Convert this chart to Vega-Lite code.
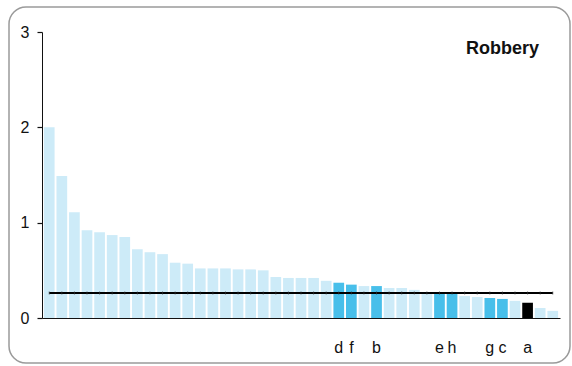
{
  "$schema": "https://vega.github.io/schema/vega-lite/v6.json",
  "width": 561,
  "height": 356,
  "autosize": "none",
  "padding": {"left": 9, "top": 7, "right": 2, "bottom": 3},
  "background": "white",
  "title": {"text": "Robbery", "anchor": "end", "frame": "group", "offset": -65, "dx": -31, "font": "Liberation Sans", "fontSize": 18, "fontWeight": "bold", "color": "#111111", "baseline": "alphabetic"},
  "config": {
    "view": {"stroke": "#9a9a9a", "strokeWidth": 1.5, "cornerRadius": 17},
    "font": "Liberation Sans",
    "axisY": {"offset": -33, "grid": false, "ticks": true, "tickWidth": 1.2, "domainColor": "#111111", "tickColor": "#111111", "tickSize": 5, "labelFontSize": 16, "labelPadding": 8, "labelColor": "#111111", "labelFont": "Liberation Sans", "format": "d"}
  },
  "data": {"values": [
    {"rank": 1, "value": 2.0, "group": "other", "label": "", "avg": 0.262},
    {"rank": 2, "value": 1.49, "group": "other", "label": "", "avg": 0.262},
    {"rank": 3, "value": 1.11, "group": "other", "label": "", "avg": 0.262},
    {"rank": 4, "value": 0.92, "group": "other", "label": "", "avg": 0.262},
    {"rank": 5, "value": 0.90, "group": "other", "label": "", "avg": 0.262},
    {"rank": 6, "value": 0.87, "group": "other", "label": "", "avg": 0.262},
    {"rank": 7, "value": 0.85, "group": "other", "label": "", "avg": 0.262},
    {"rank": 8, "value": 0.72, "group": "other", "label": "", "avg": 0.262},
    {"rank": 9, "value": 0.69, "group": "other", "label": "", "avg": 0.262},
    {"rank": 10, "value": 0.67, "group": "other", "label": "", "avg": 0.262},
    {"rank": 11, "value": 0.58, "group": "other", "label": "", "avg": 0.262},
    {"rank": 12, "value": 0.57, "group": "other", "label": "", "avg": 0.262},
    {"rank": 13, "value": 0.52, "group": "other", "label": "", "avg": 0.262},
    {"rank": 14, "value": 0.52, "group": "other", "label": "", "avg": 0.262},
    {"rank": 15, "value": 0.52, "group": "other", "label": "", "avg": 0.262},
    {"rank": 16, "value": 0.51, "group": "other", "label": "", "avg": 0.262},
    {"rank": 17, "value": 0.51, "group": "other", "label": "", "avg": 0.262},
    {"rank": 18, "value": 0.50, "group": "other", "label": "", "avg": 0.262},
    {"rank": 19, "value": 0.43, "group": "other", "label": "", "avg": 0.262},
    {"rank": 20, "value": 0.42, "group": "other", "label": "", "avg": 0.262},
    {"rank": 21, "value": 0.42, "group": "other", "label": "", "avg": 0.262},
    {"rank": 22, "value": 0.42, "group": "other", "label": "", "avg": 0.262},
    {"rank": 23, "value": 0.39, "group": "other", "label": "", "avg": 0.262},
    {"rank": 24, "value": 0.37, "group": "highlight", "label": "d", "avg": 0.262},
    {"rank": 25, "value": 0.35, "group": "highlight", "label": "f", "avg": 0.262},
    {"rank": 26, "value": 0.335, "group": "other", "label": "", "avg": 0.262},
    {"rank": 27, "value": 0.335, "group": "highlight", "label": "b", "avg": 0.262},
    {"rank": 28, "value": 0.315, "group": "other", "label": "", "avg": 0.262},
    {"rank": 29, "value": 0.315, "group": "other", "label": "", "avg": 0.262},
    {"rank": 30, "value": 0.295, "group": "other", "label": "", "avg": 0.262},
    {"rank": 31, "value": 0.27, "group": "other", "label": "", "avg": 0.262},
    {"rank": 32, "value": 0.26, "group": "highlight", "label": "e", "avg": 0.262},
    {"rank": 33, "value": 0.26, "group": "highlight", "label": "h", "avg": 0.262},
    {"rank": 34, "value": 0.23, "group": "other", "label": "", "avg": 0.262},
    {"rank": 35, "value": 0.22, "group": "other", "label": "", "avg": 0.262},
    {"rank": 36, "value": 0.21, "group": "highlight", "label": "g", "avg": 0.262},
    {"rank": 37, "value": 0.20, "group": "highlight", "label": "c", "avg": 0.262},
    {"rank": 38, "value": 0.18, "group": "other", "label": "", "avg": 0.262},
    {"rank": 39, "value": 0.16, "group": "a", "label": "a", "avg": 0.262},
    {"rank": 40, "value": 0.105, "group": "other", "label": "", "avg": 0.262},
    {"rank": 41, "value": 0.075, "group": "other", "label": "", "avg": 0.262}
  ]},
  "encoding": {
    "x": {"field": "rank", "type": "ordinal", "sort": null,
      "scale": {"range": [33, 551], "paddingInner": 0.15, "paddingOuter": 0.15},
      "axis": {"labels": false, "ticks": false, "title": null, "offset": -45, "domainColor": "#111111", "domainWidth": 1.2}}
  },
  "layer": [
    {
      "mark": {"type": "bar"},
      "encoding": {
        "y": {"field": "value", "type": "quantitative",
          "scale": {"domain": [0, 3], "range": [311, 25], "nice": false, "zero": true},
          "axis": {"values": [0, 1, 2, 3], "title": null, "format": "d", "ticks": true, "tickSize": 5}},
        "color": {"field": "group", "type": "nominal", "scale": {"domain": ["other", "highlight", "a"], "range": ["#CDEBF8", "#48BFEA", "#000000"]}, "legend": null}
      }
    },
    {
      "mark": {"type": "line", "color": "#000000", "strokeWidth": 2},
      "encoding": {"y": {"field": "avg", "type": "quantitative", "axis": {"values": [0, 1, 2, 3], "title": null, "format": "d", "ticks": true, "tickSize": 5}}}
    },
    {
      "mark": {"type": "tick", "orient": "vertical", "size": 3, "thickness": 1, "color": "#333333"},
      "encoding": {"y": {"field": "avg", "type": "quantitative", "axis": {"values": [0, 1, 2, 3], "title": null, "format": "d", "ticks": true, "tickSize": 5}}}
    },
    {
      "transform": [{"filter": "datum.label != ''"}],
      "mark": {"type": "text", "baseline": "alphabetic", "dy": 35, "fontSize": 16, "color": "#111111", "font": "Liberation Sans"},
      "encoding": {"y": {"datum": 0}, "text": {"field": "label"}}
    }
  ]
}
